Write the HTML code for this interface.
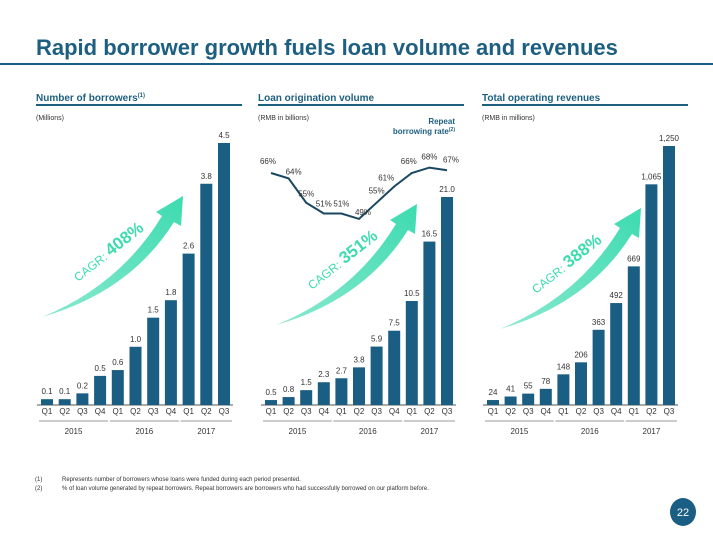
<!DOCTYPE html>
<html><head><meta charset="utf-8"><style>
body{margin:0;width:713px;height:539px;background:#fff;overflow:hidden;font-family:"Liberation Sans",sans-serif}
svg text{font-family:"Liberation Sans",sans-serif}
</style></head><body>
<svg id="s" width="713" height="539" viewBox="0 0 713 539">
<defs>
<linearGradient id="ag" x1="0" y1="1" x2="1" y2="0"><stop offset="0" stop-color="#3ddbb0" stop-opacity="0.6"/><stop offset="1" stop-color="#3ddbb0"/></linearGradient>
</defs>
<text x="36" y="55" font-size="22" font-weight="bold" fill="#1d5f80">Rapid borrower growth fuels loan volume and revenues</text>
<rect x="0" y="63" width="713" height="2" fill="#1d5f80"/>
<g id="charts"></g>
<text x="35" y="481" font-size="6" fill="#333">(1)</text>
<text x="62" y="481" font-size="6" fill="#333">Represents number of borrowers whose loans were funded during each period presented.</text>
<text x="35" y="490" font-size="6" fill="#333">(2)</text>
<text x="62" y="490" font-size="6" fill="#333">% of loan volume generated by repeat borrowers. Repeat borrowers are borrowers who had successfully borrowed on our platform before.</text>
<ellipse cx="683" cy="512" rx="13" ry="14" fill="#1b5e83"/>
<text x="683" y="516" font-size="11" fill="#fff" text-anchor="middle">22</text>
</svg>
<script>
const quarters=["Q1","Q2","Q3","Q4","Q1","Q2","Q3","Q4","Q1","Q2","Q3"];
const years=["2015","2016","2017"];
const borrowers=[0.1,0.1,0.2,0.5,0.6,1.0,1.5,1.8,2.6,3.8,4.5];
const borrowerLabels=["0.1","0.1","0.2","0.5","0.6","1.0","1.5","1.8","2.6","3.8","4.5"];
const volume=[0.5,0.8,1.5,2.3,2.7,3.8,5.9,7.5,10.5,16.5,21.0];
const volumeLabels=["0.5","0.8","1.5","2.3","2.7","3.8","5.9","7.5","10.5","16.5","21.0"];
const repeatRate=[66,64,55,51,51,49,55,61,66,68,67];
const revenues=[24,41,55,78,148,206,363,492,669,1065,1250];
const revenueLabels=["24","41","55","78","148","206","363","492","669","1,065","1,250"];
const cagrs=["408%","351%","388%"];

const NS="http://www.w3.org/2000/svg";
const g=document.getElementById("charts");
function mk(tag,attrs,parent,text){const e=document.createElementNS(NS,tag);for(const k in attrs)e.setAttribute(k,attrs[k]);if(text!==undefined)e.textContent=text;(parent||g).appendChild(e);return e;}

const panels=[
 {x0:36,title:"Number of borrowers",sup:"(1)",unit:"(Millions)",vals:borrowers,labs:borrowerLabels,max:4.5,top:143,first:47,last:224,name:"borrowers",ax:0,ay:0},
 {x0:258,title:"Loan origination volume",sup:"",unit:"(RMB in billions)",vals:volume,labs:volumeLabels,max:21.0,top:197,first:271,last:447,name:"volume",ax:234,ay:8},
 {x0:482,title:"Total operating revenues",sup:"",unit:"(RMB in millions)",vals:revenues,labs:revenueLabels,max:1250,top:146,first:493,last:669,name:"revenues",ax:458,ay:12}
];
const base=405;
panels.forEach((p,pi)=>{
  const pg=mk("g",{});
  
  
  const t=mk("text",{x:p.x0,y:101,"font-size":10,"font-weight":"bold",fill:"#1d5f80"},pg,p.title);
  
  
  if(p.sup){mk("tspan",{"font-size":6,dy:-4},t,p.sup);}
  const r=mk("rect",{x:p.x0,y:104,width:206,height:2,fill:"#1d5f80"},pg);
  
  
  const u=mk("text",{x:p.x0,y:120,"font-size":7,fill:"#333"},pg,p.unit);
  
  
  const step=(p.last-p.first)/(p.vals.length-1);
  const ys=v=>base-(v/p.max)*(base-p.top);
  const xs=i=>p.first+i*step;
  const ax=mk("line",{x1:xs(0)-10,x2:xs(10)+9,y1:base,y2:base,stroke:"#555","stroke-width":1},pg);
  
  
  p.vals.forEach((v,i)=>{
    const b=mk("rect",{x:xs(i)-6,y:ys(v),width:12,height:base-ys(v),fill:"#1b5e83"},pg);
    
    
    const l=mk("text",{x:xs(i),y:ys(v)-5,"font-size":8,"text-anchor":"middle",fill:"#333"},pg,p.labs[i]);
    
    
    const q=mk("text",{x:xs(i),y:414,"font-size":8,"text-anchor":"middle",fill:"#333"},pg,quarters[i]);
    
    
  });
  const groups=[[0,3],[4,7],[8,10]];
  groups.forEach((gr,gi)=>{
    const ln=mk("line",{x1:xs(gr[0])-8,x2:xs(gr[1])+8,y1:421,y2:421,stroke:"#777","stroke-width":0.7},pg);
    
    
    const yt=mk("text",{x:(xs(gr[0])+xs(gr[1]))/2,y:434,"font-size":8,"text-anchor":"middle",fill:"#333"},pg,years[gi]);
    
    
  });
  const ar=mk("g",{transform:"translate("+p.ax+","+p.ay+")"},pg);
  
  
  mk("path",{d:"M42,317 Q120,285 162,216 L156,212 L183,196 L181,226 L174,222 Q130,292 42,317 Z",fill:"url(#ag)"},ar);
  const ct=mk("text",{transform:"translate(78,282) rotate(-38)","font-size":12,fill:"#3ddbb0"},ar,"CAGR: ");
  
  
  mk("tspan",{"font-size":17,"font-weight":"bold"},ct,cagrs[pi]);
  if(pi===1){
    const ly=v=>173+(66-v)*2.7;
    const pts=repeatRate.map((v,i)=>xs(i)+","+ly(v)).join(" ");
    const pl=mk("polyline",{points:pts,fill:"none",stroke:"#1a4760","stroke-width":2},pg);
    
    
    const offs=[[-3,-9],[5,-4],[0,-6],[0,-7],[0,-7],[4,-4],[0,-9],[-8,-6],[-3,-9],[0,-8],[4,-8]];
    repeatRate.forEach((v,i)=>{
      const tl=mk("text",{x:xs(i)+offs[i][0],y:ly(v)+offs[i][1],"font-size":8,"text-anchor":"middle",fill:"#333"},pg,v+"%");
      
      
    });
    const rl=mk("text",{x:455,y:124,"font-size":8,"font-weight":"bold","text-anchor":"end",fill:"#1d5f80"},pg,"Repeat");
    
    
    const rl2=mk("text",{x:455,y:134,"font-size":8,"font-weight":"bold","text-anchor":"end",fill:"#1d5f80"},pg,"borrowing rate");
    
    
    mk("tspan",{"font-size":5,dy:-3},rl2,"(2)");
  }
});
</script>
</body></html>
